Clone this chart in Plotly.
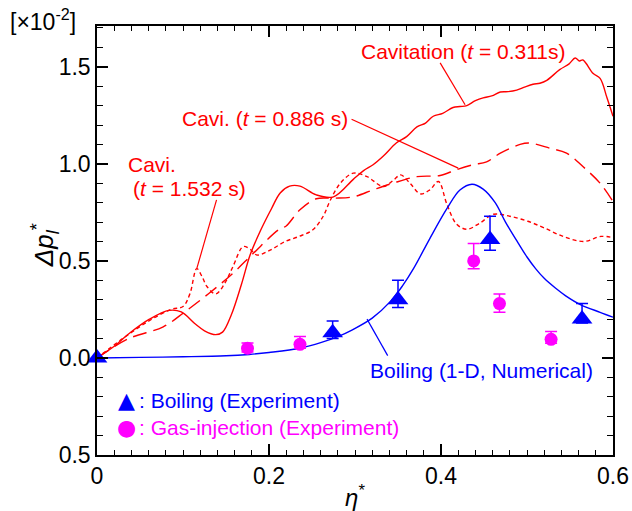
import plotly.graph_objects as go

# --- Boiling, 1-D numerical ---
eta_num = [0, 0.05, 0.10, 0.15, 0.177, 0.20, 0.236, 0.261, 0.28, 0.297, 0.32, 0.341, 0.355,
           0.368, 0.387, 0.407, 0.422, 0.436, 0.449, 0.463, 0.475, 0.49, 0.50, 0.51, 0.52,
           0.533, 0.545, 0.562, 0.585, 0.60]
dp_num = [0, 0.003, 0.006, 0.011, 0.018, 0.028, 0.05, 0.08, 0.11, 0.145, 0.205, 0.29, 0.37,
          0.46, 0.615, 0.77, 0.865, 0.895, 0.87, 0.80, 0.70, 0.59, 0.52, 0.46, 0.41,
          0.36, 0.32, 0.275, 0.235, 0.21]

# --- Cavitation, t = 0.311 s ---
eta_c1 = [0, 0.02, 0.037, 0.061, 0.084, 0.098, 0.114, 0.125, 0.138, 0.146, 0.156, 0.168,
          0.178, 0.19, 0.203, 0.213, 0.224, 0.236, 0.255, 0.275, 0.298, 0.31, 0.321, 0.333,
          0.348, 0.36, 0.372, 0.382, 0.391, 0.402, 0.414, 0.422, 0.43, 0.44, 0.449, 0.459,
          0.469, 0.478, 0.488, 0.497, 0.507, 0.515, 0.523, 0.538, 0.549, 0.556, 0.561,
          0.565, 0.577, 0.585, 0.593, 0.60]
dp_c1 = [0, 0.06, 0.125, 0.20, 0.245, 0.237, 0.176, 0.14, 0.12, 0.133, 0.22, 0.38,
         0.53, 0.655, 0.77, 0.85, 0.885, 0.885, 0.84, 0.83, 0.92, 0.965, 0.995, 1.04,
         1.107, 1.14, 1.19, 1.21, 1.245, 1.26, 1.29, 1.295, 1.30, 1.325, 1.34, 1.35,
         1.37, 1.372, 1.38, 1.395, 1.41, 1.415, 1.43, 1.485, 1.515, 1.545, 1.53,
         1.535, 1.465, 1.44, 1.34, 1.245]

# --- Cavitation, t = 0.886 s ---
eta_c2 = [0, 0.037, 0.077, 0.102, 0.13, 0.158, 0.182, 0.211, 0.22, 0.236, 0.255, 0.275,
          0.298, 0.321, 0.344, 0.372, 0.399, 0.418, 0.437, 0.453, 0.469, 0.492, 0.503,
          0.527, 0.546, 0.565, 0.585, 0.60]
dp_c2 = [0, 0.10, 0.16, 0.237, 0.332, 0.436, 0.54, 0.66, 0.68, 0.763, 0.82, 0.823,
         0.83, 0.866, 0.90, 0.934, 0.94, 0.97, 0.995, 1.01, 1.055, 1.10, 1.107,
         1.08, 1.055, 0.986, 0.90, 0.806]

# --- Cavitation, t = 1.532 s ---
eta_c3 = [0, 0.03, 0.06, 0.086, 0.10, 0.108, 0.116, 0.122, 0.128, 0.138, 0.148, 0.158,
          0.17, 0.178, 0.186, 0.202, 0.219, 0.235, 0.251, 0.263, 0.271, 0.283, 0.298,
          0.314, 0.333, 0.345, 0.353, 0.364, 0.376, 0.387, 0.397, 0.407, 0.418, 0.43,
          0.445, 0.461, 0.48, 0.501, 0.52, 0.542, 0.566, 0.586, 0.60]
dp_c3 = [0, 0.10, 0.19, 0.25, 0.265, 0.33, 0.46, 0.42, 0.367, 0.33, 0.38, 0.47,
         0.574, 0.56, 0.53, 0.557, 0.60, 0.626, 0.66, 0.73, 0.81, 0.90, 0.952,
         0.934, 0.883, 0.917, 0.943, 0.90, 0.845, 0.866, 0.909, 0.79, 0.69, 0.663,
         0.694, 0.74, 0.73, 0.704, 0.67, 0.626, 0.60, 0.626, 0.62]

# --- Experiments ---
eta_boil = [0, 0.274, 0.350, 0.457, 0.564]
dp_boil = [0, 0.13, 0.30, 0.61, 0.20]
err_boil_up = [0, 0.06, 0.10, 0.12, 0.08]
err_boil_dn = [0, 0.03, 0.04, 0.055, 0.02]

eta_gas = [0.175, 0.236, 0.438, 0.468, 0.528]
dp_gas = [0.05, 0.07, 0.50, 0.28, 0.096]
err_gas_up = [0.027, 0.04, 0.09, 0.05, 0.04]
err_gas_dn = [0.02, 0.02, 0.04, 0.045, 0.02]

y_tickvals = [-0.5, 0.0, 0.5, 1.0, 1.5]
y_ticktext = ["0.5", "0.0", "0.5", "1.0", "1.5"]
x_tickvals = [0, 0.2, 0.4, 0.6]
x_ticktext = ["0", "0.2", "0.4", "0.6"]
x_odd_ticks = [0.1, 0.3, 0.5]

RED = "#ff0000"
BLUE = "#0000ff"
MAG = "#ff00ff"
FONT = "Liberation Sans, Arial, sans-serif"
X_RANGE = [0, 0.6]

fig = go.Figure()

fig.add_trace(go.Scatter(x=eta_c1, y=dp_c1, mode="lines",
                         line=dict(color=RED, width=1.4), line_shape="spline"))
fig.add_trace(go.Scatter(x=eta_c2, y=dp_c2, mode="lines",
                         line=dict(color=RED, width=1.4, dash="14px,7px"), line_shape="spline"))
fig.add_trace(go.Scatter(x=eta_c3, y=dp_c3, mode="lines",
                         line=dict(color=RED, width=1.4, dash="4px,3px"), line_shape="spline"))
fig.add_trace(go.Scatter(x=eta_num, y=dp_num, mode="lines",
                         line=dict(color=BLUE, width=1.4), line_shape="spline"))

fig.add_trace(go.Scatter(
    x=eta_gas, y=dp_gas, mode="markers", cliponaxis=False,
    marker=dict(symbol="circle", size=13, color=MAG),
    error_y=dict(type="data", array=err_gas_up, arrayminus=err_gas_dn,
                 color=MAG, thickness=1.5, width=6)))
fig.add_trace(go.Scatter(
    x=eta_boil, y=dp_boil, mode="markers", cliponaxis=False,
    marker=dict(symbol="triangle-up", size=18, color=BLUE),
    error_y=dict(type="data", array=err_boil_up, arrayminus=err_boil_dn,
                 color=BLUE, thickness=1.5, width=6)))

# leader lines from labels to curves
leaders = [
    ((0.399, 1.52), (0.428, 1.304), RED),
    ((0.296, 1.23), (0.42, 0.978), RED),
    ((0.139, 0.814), (0.116, 0.46), RED),
    ((0.338, 0.012), (0.314, 0.20), BLUE),
]
for (x0, y0), (x1, y1), c in leaders:
    fig.add_shape(type="line", xref="x", yref="y", x0=x0, y0=y0, x1=x1, y1=y1,
                  line=dict(color=c, width=1.2))

def label(text, x, y, color, xanchor="center", size=21):
    fig.add_annotation(text=text, x=x, y=y, xref="x", yref="y", showarrow=False,
                       xanchor=xanchor, yanchor="middle",
                       font=dict(family=FONT, size=size, color=color))

label("Cavitation (<i>t</i> = 0.311s)", 0.425, 1.577, RED)
label("Cavi. (<i>t</i> = 0.886 s)", 0.195, 1.236, RED)
label("Cavi.", 0.034, 0.995, RED, xanchor="left")
label("(<i>t</i> = 1.532 s)", 0.04, 0.871, RED, xanchor="left")
label("Boiling (1-D, Numerical)", 0.315, -0.067, BLUE, xanchor="left")

# key for the experimental symbols
key_items = [("▲", ": Boiling (Experiment)", BLUE, 0.126),
             ("●", ": Gas-injection (Experiment)", MAG, 0.063)]
for glyph, text, color, yk in key_items:
    fig.add_annotation(text=glyph, xref="paper", yref="paper", x=0.058, y=yk,
                       showarrow=False, xanchor="center", yanchor="middle",
                       font=dict(family="DejaVu Sans", size=22, color=color))
    fig.add_annotation(text=text, xref="paper", yref="paper", x=0.078, y=yk,
                       showarrow=False, xanchor="left", yanchor="middle",
                       font=dict(family=FONT, size=21, color=color))

fig.add_annotation(text="[×10<sup>-2</sup>]", xref="paper", yref="paper",
                   x=-0.172, y=1.013, showarrow=False, xanchor="left", yanchor="middle",
                   font=dict(family=FONT, size=23, color="black"))

# y-axis title
fig.add_annotation(text="<i>Δp</i><sub><i>l</i></sub><sup>*</sup>", xref="paper", yref="paper",
                   x=-0.102, y=0.49, showarrow=False, textangle=-90,
                   xanchor="center", yanchor="middle",
                   font=dict(family=FONT, size=26, color="black"))

axis_common = dict(showline=True, linecolor="black", linewidth=1.5, mirror="allticks",
                   ticks="inside", ticklen=11, tickwidth=1.5, tickcolor="black",
                   showgrid=False, zeroline=False, automargin=False,
                   tickfont=dict(family=FONT, size=23, color="black"))

fig.update_xaxes(range=X_RANGE, tickvals=x_tickvals, ticktext=x_ticktext,
                 minor=dict(dtick=0.02, ticks="inside", ticklen=5, tickwidth=1, tickcolor="black"),
                 title=dict(text="<i>η</i><sup>*</sup>",
                            font=dict(family=FONT, size=24, color="black")),
                 **axis_common)
fig.update_yaxes(range=[-0.5, 1.71], tickvals=y_tickvals, ticktext=y_ticktext,
                 minor=dict(dtick=0.1, ticks="inside", ticklen=6, tickwidth=1, tickcolor="black"),
                 **axis_common)

# unlabeled long ticks at the odd tenths
fig.update_layout(xaxis2=dict(overlaying="x", range=X_RANGE, tickvals=x_odd_ticks,
                              showticklabels=False, showline=True, linecolor="black",
                              linewidth=1.5, mirror="allticks", ticks="inside", ticklen=11,
                              tickwidth=1.5, tickcolor="black", showgrid=False,
                              zeroline=False, automargin=False))

fig.update_layout(width=632, height=511, margin=dict(l=97, r=19, t=26, b=56),
                  plot_bgcolor="white", paper_bgcolor="white", showlegend=False,
                  font=dict(family=FONT))

fig.write_html("out.html")
